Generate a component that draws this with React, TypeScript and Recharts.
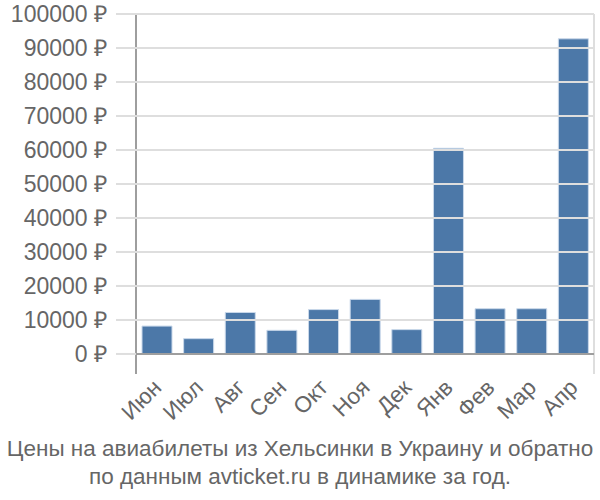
import { BarChart, Bar, XAxis, YAxis, CartesianGrid } from 'recharts'

const months = ['Июн', 'Июл', 'Авг', 'Сен', 'Окт', 'Ноя', 'Дек', 'Янв', 'Фев', 'Мар', 'Апр']
const prices = [8200, 4500, 12200, 6950, 13050, 16050, 7150, 60500, 13300, 13300, 92700]
const yTicks = [0, 10000, 20000, 30000, 40000, 50000, 60000, 70000, 80000, 90000, 100000]
const slotTicks = [0, 1, 2, 3, 4, 5, 6, 7, 8, 9, 10, 11]

// each month sits in the middle of its slot on a 0..11 axis
const data = months.map((m, i) => ({ month: m, pos: i + 0.5, price: prices[i] }))

const FONT = '"Liberation Sans", Arial, sans-serif'
const GRID = '#dedede'
const AXIS = '#9e9e9e'
const TEXT = '#666'
const W = 600
const H = 500
const MARGIN = { top: 14, right: 6, left: 0, bottom: 0 }
const TICK = 20
const TICK_GAP = 9
const PLOT_RIGHT = W - MARGIN.right

type TickProps = { x?: number; y?: number; payload?: { value: number | string } }

const MonthTick = ({ x, y, payload }: TickProps) => (
  <g transform={`translate(${(x ?? 0) + 6},${(y ?? 0) + 7}) rotate(-45)`}>
    <text x={0} y={0} textAnchor="end" fontSize={22.5} fill={TEXT} fontFamily={FONT}>
      {payload?.value}
    </text>
  </g>
)

// price label with its grid line (the zero line is the darker axis)
const PriceTick = ({ x, y, payload }: TickProps) => {
  const zero = payload?.value === 0
  return (
    <g>
      <line
        x1={(x ?? 0) + TICK_GAP + (zero ? TICK : 0)}
        x2={PLOT_RIGHT}
        y1={y}
        y2={y}
        stroke={zero ? AXIS : GRID}
        strokeWidth={2}
      />
      <text x={x} y={y} dy="0.355em" textAnchor="end" fontSize={23} fill={TEXT} fontFamily={FONT}>
        {`${payload?.value} ₽`}
      </text>
    </g>
  )
}

export default function App() {
  return (
    <div style={{ position: 'absolute', left: 0, top: 0, width: W, height: H, background: '#fff', fontFamily: FONT }}>
      <BarChart width={W} height={H} data={data} margin={MARGIN}>
        <CartesianGrid stroke={GRID} strokeWidth={2} horizontal={false} />
        <XAxis
          type="number"
          dataKey="pos"
          domain={[0, 11]}
          allowDataOverflow
          ticks={slotTicks}
          interval={0}
          height={0}
          tick={false}
          tickLine={false}
          axisLine={false}
        />
        <XAxis
          xAxisId="cat"
          dataKey="month"
          height={126}
          tickLine={false}
          tick={<MonthTick />}
          interval={0}
          axisLine={false}
        />
        <YAxis
          domain={[-5900, 100000]}
          allowDataOverflow
          ticks={yTicks}
          interval={0}
          width={136}
          tickSize={TICK}
          tickMargin={TICK_GAP}
          tickLine={{ stroke: GRID, strokeWidth: 2 }}
          axisLine={{ stroke: AXIS, strokeWidth: 2 }}
          tick={<PriceTick />}
        />
        <Bar dataKey="price" barSize={30} fill="#4c78a8" stroke="#c9d8ea" strokeWidth={1} isAnimationActive={false} />
      </BarChart>
      <div style={{ position: 'absolute', left: 0, top: 435, width: W, textAlign: 'center', fontSize: 22.5, lineHeight: '28px', color: TEXT, whiteSpace: 'nowrap' }}>
        Цены на авиабилеты из Хельсинки в Украину и обратно
        <br />
        по данным avticket.ru в динамике за год.
      </div>
    </div>
  )
}
